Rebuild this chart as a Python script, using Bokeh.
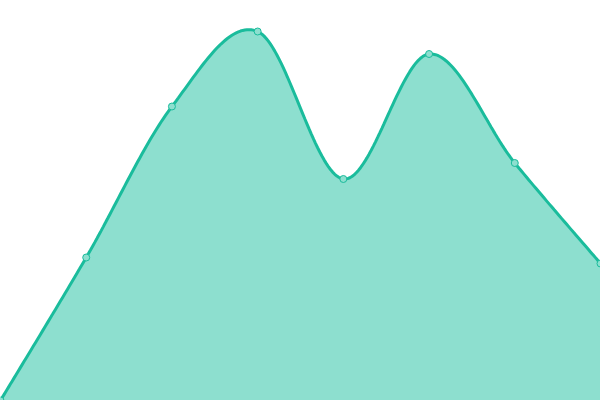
import numpy as np
from bokeh.plotting import figure
from bokeh.models import Range1d, GlobalInlineStyleSheet
from bokeh.embed import file_html
from bokeh.resources import INLINE

# data
categories = [0, 1, 2, 3, 4, 5, 6, 7]
values = [0, 143, 294, 369, 221.5, 346.5, 237.5, 137]

LINE = "#1abc9c"
FILL = "#8ddfcf"


def cardinal_path(xs, ys, steps=40):
    xs = np.asarray(xs, dtype=float)
    ys = np.asarray(ys, dtype=float)
    n = len(xs)
    px, py = [], []
    for i in range(n - 1):
        i0 = max(i - 1, 0)
        i3 = min(i + 2, n - 1)
        p0 = np.array([xs[i], ys[i]])
        p3 = np.array([xs[i + 1], ys[i + 1]])
        c1 = p0 + (np.array([xs[i + 1], ys[i + 1]]) - np.array([xs[i0], ys[i0]])) / 6.0
        c2 = p3 - (np.array([xs[i3], ys[i3]]) - np.array([xs[i], ys[i]])) / 6.0
        t = np.linspace(0, 1, steps, endpoint=(i == n - 2))
        mt = 1 - t
        bx = mt**3 * p0[0] + 3 * mt**2 * t * c1[0] + 3 * mt * t**2 * c2[0] + t**3 * p3[0]
        by = mt**3 * p0[1] + 3 * mt**2 * t * c1[1] + 3 * mt * t**2 * c2[1] + t**3 * p3[1]
        px.extend(bx.tolist())
        py.extend(by.tolist())
    return px, py


cx, cy = cardinal_path(categories, values)

p = figure(width=600, height=400, output_backend="svg", toolbar_location=None,
           x_range=Range1d(0, 7), y_range=Range1d(0, 400),
           min_border=0, min_border_left=0, min_border_right=0,
           min_border_top=0, min_border_bottom=0)
p.stylesheets = [GlobalInlineStyleSheet(css="body{margin:0;}")]
p.xaxis.visible = False
p.yaxis.visible = False
p.grid.visible = False
p.outline_line_color = None
p.background_fill_color = "white"
p.border_fill_color = "white"

px = [categories[0]] + cx + [categories[-1]]
py = [0] + cy + [0]
p.patch(px, py, fill_color=FILL, line_color=None)
p.line(cx, cy, line_color=LINE, line_width=3)
p.scatter(categories, values, size=7, fill_color=FILL, line_color=LINE, line_width=1)

open("out.html", "w").write(file_html(p, INLINE))
